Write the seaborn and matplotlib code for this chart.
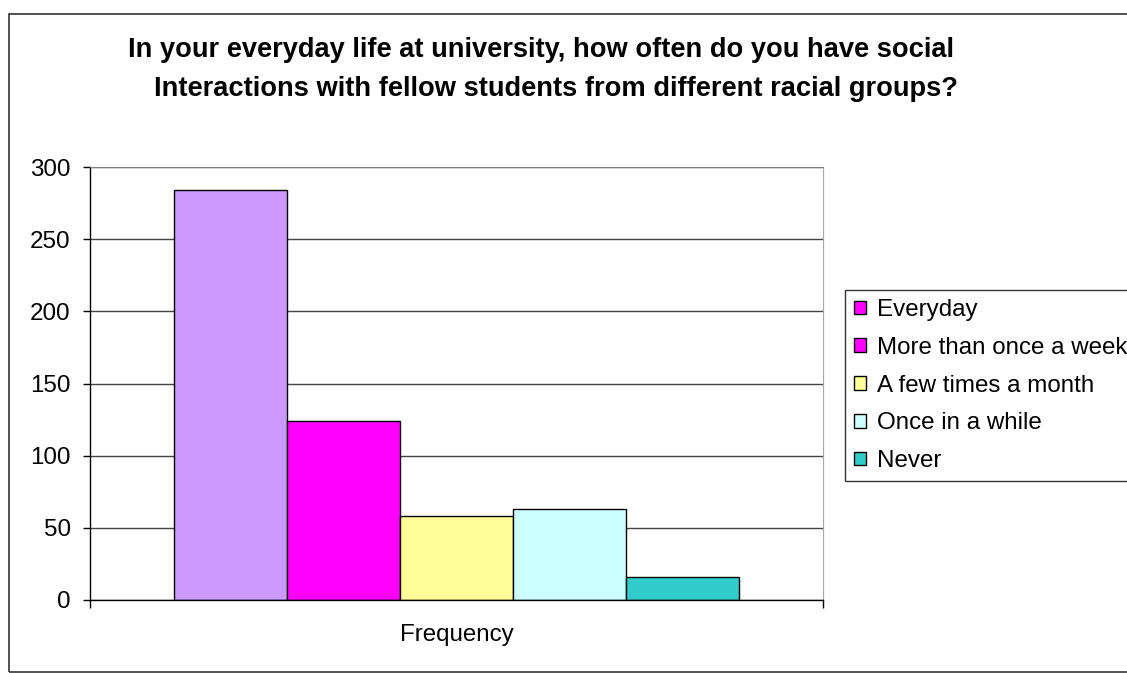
#!/usr/bin/env python3
import pandas as pd
import matplotlib.pyplot as plt
import seaborn as sns
from matplotlib.patches import Patch, Rectangle

# data
categories = ["Everyday", "More than once a week", "A few times a month",
              "Once in a while", "Never"]
counts = [284, 124, 58, 63, 16]
group_label = "Frequency"
yticks = [0, 50, 100, 150, 200, 250, 300]

# excel-ish colours
bar_colors = ["#CC99FF", "#FF00FF", "#FFFF99", "#CCFFFF", "#33CCCC"]
# the original legend shows magenta for the first entry too
legend_colors = ["#FF00FF", "#FF00FF", "#FFFF99", "#CCFFFF", "#33CCCC"]

sns.set_style("white")
plt.rcParams["font.family"] = ["Liberation Sans", "DejaVu Sans"]
plt.rcParams["text.color"] = "black"
plt.rcParams["xtick.color"] = "black"
plt.rcParams["ytick.color"] = "black"

df = pd.DataFrame({"group": [group_label] * len(categories),
                   "answer": categories,
                   "count": counts})

W, H = 1127, 673
fig = plt.figure(figsize=(W / 100, H / 100), dpi=100)
ax = fig.add_axes([90 / W, 1 - 600 / H, 733 / W, 433 / H])

sns.barplot(data=df, x="group", y="count", hue="answer",
            hue_order=categories, palette=bar_colors,
            width=0.772, gap=0, edgecolor="black", linewidth=1,
            saturation=1, legend=False, ax=ax)

ax.set_xlim(-0.5, 0.5)
ax.set_ylim(0, 300)
ax.set_yticks(yticks)
ax.yaxis.grid(True, color="#444444", linewidth=1)
ax.set_axisbelow(True)
ax.set_xlabel("")
ax.set_ylabel("")

ax.tick_params(axis="y", direction="out", length=5, width=1, color="black",
               labelcolor="black", labelsize=17.4, pad=9, left=True)
ax.tick_params(axis="x", which="major", length=0, labelsize=17.4, pad=17,
               labelcolor="black")
ax.set_xticks([-0.5, 0.5], minor=True)
ax.tick_params(axis="x", which="minor", direction="out", length=6,
               width=1, color="black", bottom=True)

for side in ["left", "bottom"]:
    ax.spines[side].set_color("black")
    ax.spines[side].set_linewidth(1)
ax.spines["top"].set_color("#808080")
ax.spines["right"].set_color("#a8a8a8")

# title, two centred lines
fig.text(541 / W, 1 - 50 / H,
         "In your everyday life at university, how often do you have social",
         ha="center", va="center", fontsize=19.6, fontweight="bold",
         color="black")
fig.text(556 / W, 1 - 89 / H,
         "Interactions with fellow students from different racial groups?",
         ha="center", va="center", fontsize=19.6, fontweight="bold",
         color="black")

handles = [Patch(facecolor=c, edgecolor="black", linewidth=1)
           for c in legend_colors]
leg = fig.legend(handles, categories, loc="upper left",
                 bbox_to_anchor=(845 / W, 1 - 290 / H),
                 bbox_transform=fig.transFigure, borderaxespad=0,
                 fontsize=17.4, frameon=True, fancybox=False, shadow=False,
                 framealpha=1, labelcolor="black",
                 handlelength=0.5, handleheight=0.5, handletextpad=0.45,
                 labelspacing=0.65, borderpad=0.38)
leg.get_frame().set_edgecolor("#333333")
leg.get_frame().set_linewidth(1)

# outer chart-area border (right side runs off the picture)
fig.patches.append(Rectangle((9 / W, 1 - 672 / H), 1.5, (672 - 14) / H,
                             transform=fig.transFigure, fill=False,
                             edgecolor="#333333", linewidth=1.2))

fig.savefig("out.png", dpi=100)
